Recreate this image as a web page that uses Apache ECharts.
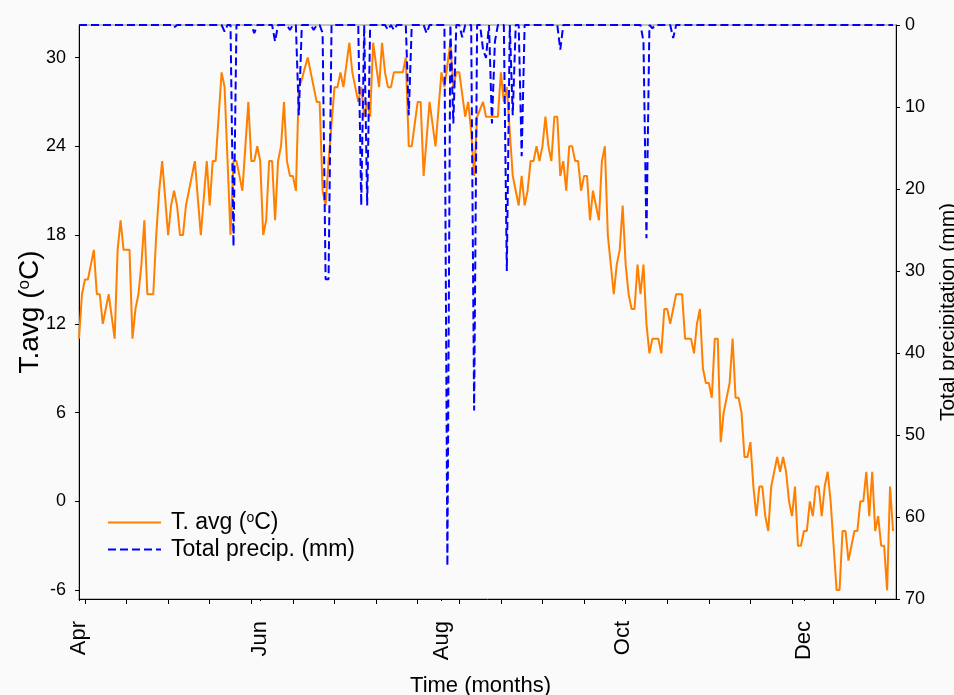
<!DOCTYPE html>
<html>
<head>
<meta charset="utf-8">
<script src="https://cdn.jsdelivr.net/npm/echarts@6/dist/echarts.min.js"></script>
<style>html,body{margin:0;padding:0;background:#fafafa;}#c{width:954px;height:695px;}</style>
</head>
<body>
<div id="c"></div>
<script>
// Daily average temperature (°C), day 0 = 1 April ... day 274 = 30 December
const tempAvg = [
 11,14,15,15,16,17,14,14,12,13, 14,12.5,11,17,19,17,17,17,11,13,
 14,16,19,14,14,14,18,21,23,20.5, 18,20,21,20,18,18,20,21,22,23,
 20.5,18,20.5,23,20,23,23,26,29,28, 23,18,23,23,22,21,24,27,23,23,
 24,23,18,19,23,23,19,23,24,27, 23,22,22,21,28,28.5,29.3,30,29,28,
 27,27,21,20,23,25.5,28,28,29,28, 29.5,31,29,28,27,28,26,27,26,31,
 29.5,28,31,29,28,28,29,29,29,29, 30,24,24,25.5,27,27,22,24.5,27,25.5,
 24,26.5,29,28,29.5,31,28,29,29,27.5, 26,27,25,22,26,26.5,27,26,26,26,
 26,26,29,27,28,25,22,21,20,22, 20,21,23,23,24,23,24,26,24,23,
 26,26,22,23,21,24,24,23,23,21, 22,22,19,21,20,19,23,24,18,16,
 14,16,17,20,16,14,13,13,16,14, 16,12,10,11,11,11,10,13,13,12,
 13,14,14,14,11,11,11,10,12,13, 9,8,8,7,11,11,4,6,7,8,
 11,7,7,6,3,3,4,1,-1,1, 1,-1,-2,1,2,3,2,3,2,0,
 -1,1,-3,-3,-2,-2,0,-1,1,1, -1,1,2,0,-3,-6,-6,-2,-2,-4,
 -3,-2,-2,0,0,2,-1,2,-2,-1, -3,-3,-6,1,-2
];
// Total daily precipitation (mm): days with rain and their amounts; other days 0
const precipDays = [32,49,52,59,66,71,74,79,82,83,84,95,97,104,106,111,117,124,126,129,133,136,137,139,140,144,146,149,162,190,191,193,200];
const precipMm   = [0.3,0.8,27,1,2,0.6,11,0.6,1,31,31,22,22,0.6,0.6,11,1,66,12,1.5,47,3,4,12,2,30,11,16,3,2,26,0.4,1.6];
// Axis ticks / labels
const monthDays = [0,61,122,183,244];
const monthLabels = ['Apr','Jun','Aug','Oct','Dec'];
const biweeklyTicks = [2,16,30,44,58,72,86,100,114,128,142,156,170,184,198,212,226,240,254,268];
const tempTicks = [-6,0,6,12,18,24,30];

const tName = 'T. avg (oC)';
const pName = 'Total precip. (mm)';

const tempData = tempAvg.map((v,i)=>[i,v]);
const precipFull = tempAvg.map((_,i)=>{const k=precipDays.indexOf(i);return [i, k>=0?precipMm[k]:0];});

const FONT = '"Liberation Sans", Arial, sans-serif';
const supRich = (size, sup) => ({
  n:{fontSize:size,fontFamily:FONT,color:'#000'},
  s:{fontSize:sup,fontFamily:FONT,color:'#000',verticalAlign:'top',padding:[0,0,Math.round(size*0.4),0]}
});
const chart = echarts.init(document.getElementById('c'), null, {renderer:'canvas'});
chart.setOption({
  backgroundColor:'#fafafa',
  animation:false,
  textStyle:{fontFamily:FONT},
  grid:{left:79,right:58,top:25,bottom:96,outerBoundsMode:'none',containLabel:false,show:true,borderColor:'#8a8a8a',borderWidth:1,backgroundColor:'transparent'},
  legend:{
    left:107, top:511, padding:0, orient:'vertical', itemWidth:53, itemHeight:14, itemGap:4,
    data:[tName,pName],
    itemStyle:{opacity:0},
    formatter:n=> n===tName ? '{n|T. avg (}{s|o}{n|C)}' : '{n|Total precip. (mm)}',
    textStyle:{color:'#000',fontFamily:FONT,padding:[0,0,0,5],rich:supRich(23,14)}
  },
  xAxis:[{
    type:'value', min:0, max:275, position:'bottom',
    axisLine:{show:true,onZero:false,lineStyle:{color:'#000',width:1}},
    axisTick:{show:true,customValues:biweeklyTicks,length:5,lineStyle:{color:'#000'}},
    axisLabel:{customValues:monthDays,formatter:v=>monthLabels[monthDays.indexOf(v)],rotate:90,margin:22,fontSize:22,color:'#000',fontFamily:FONT},
    splitLine:{show:false},
    name:'Time (months)', nameLocation:'middle', nameGap:76, nameMoveOverlap:false,
    nameTextStyle:{fontSize:22,color:'#000',fontFamily:FONT,padding:[0,14,0,0]}
  },{
    type:'value', min:0, max:275, position:'bottom',
    axisLine:{show:false,onZero:false},
    axisTick:{show:true,customValues:monthDays,length:2,lineStyle:{color:'#000'}},
    axisLabel:{show:false},
    splitLine:{show:false}
  }],
  yAxis:[{
    type:'value', min:-6.6, max:32.2, position:'left',
    axisLine:{show:true,onZero:false,lineStyle:{color:'#000',width:1}},
    axisTick:{show:true,customValues:tempTicks,length:4,lineStyle:{color:'#000'}},
    axisLabel:{customValues:tempTicks,margin:13,fontSize:18,color:'#000',fontFamily:FONT},
    splitLine:{show:false},
    name:'{n|T.avg (}{s|o}{n|C)}', nameLocation:'middle', nameGap:35, nameRotate:90, nameMoveOverlap:false,
    nameTextStyle:{fontFamily:FONT,rich:supRich(28,17)}
  },{
    type:'value', min:0, max:70, interval:10, inverse:true, position:'right',
    axisLine:{show:true,onZero:false,lineStyle:{color:'#000',width:1}},
    axisTick:{show:true,length:4,lineStyle:{color:'#000'}},
    axisLabel:{margin:9,fontSize:18,color:'#000',fontFamily:FONT},
    splitLine:{show:false},
    name:'Total precipitation (mm)', nameLocation:'middle', nameGap:42, nameRotate:90, nameMoveOverlap:false,
    nameTextStyle:{fontSize:21,color:'#000',fontFamily:FONT}
  }],
  series:[{
    name:tName, type:'line', xAxisIndex:0, yAxisIndex:0, data:tempData,
    symbol:'none', lineStyle:{color:'#ff8000',width:2}, itemStyle:{color:'#ff8000'}, z:2
  },{
    name:pName, type:'line', xAxisIndex:0, yAxisIndex:1, data:precipFull,
    symbol:'none', lineStyle:{color:'#0000ff',width:2,type:[8,4]}, itemStyle:{color:'#0000ff'}, z:3
  }]
});
</script>
</body>
</html>
